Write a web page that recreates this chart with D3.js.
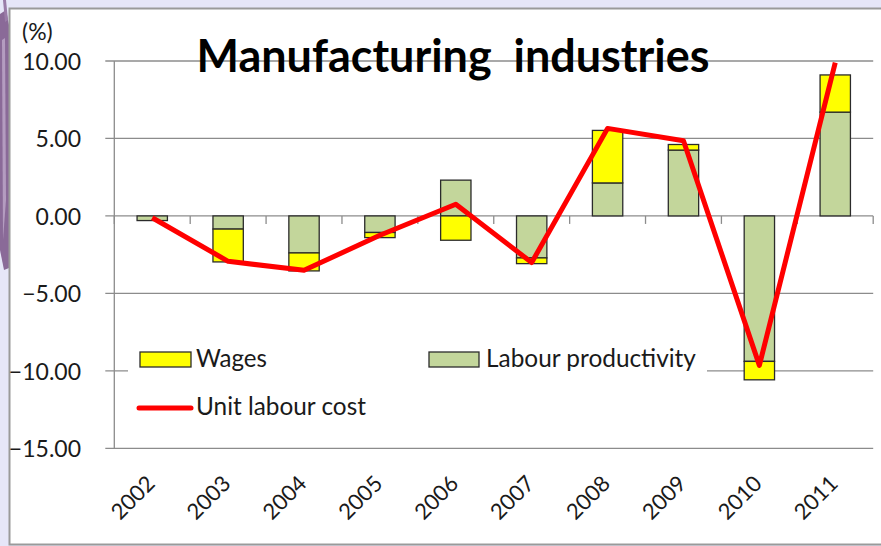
<!DOCTYPE html>
<html>
<head>
<meta charset="utf-8">
<script src="https://cdn.jsdelivr.net/npm/d3@7"></script>
<style>
  html, body { margin: 0; padding: 0; background: #e6e6f8; }
  svg { display: block; font-family: Lato, "Open Sans", sans-serif; }
</style>
</head>
<body>
<svg id="chart" width="881" height="546"></svg>
<script>
// Contributions to unit labour cost growth, manufacturing (%)
const years = ["2002","2003","2004","2005","2006","2007","2008","2009","2010","2011"];
const labourProductivity = [-0.3, -0.85, -2.39, -1.07, 2.31, -2.71, 2.13, 4.25, -9.39, 6.70];
const wages = [0.0, -2.12, -1.16, -0.33, -1.57, -0.37, 3.39, 0.36, -1.19, 2.40];
const unitLabourCost = [-0.12, -2.93, -3.51, -1.25, 0.75, -3.01, 5.65, 4.85, -9.65, 9.89];
const yTicks = [10, 5, 0, -5, -10, -15];

const svg = d3.select("#chart");

// decorative ribbon on the left edge
const deco = svg.append("g");
deco.append("path").attr("d", "M0,14 L6,10 L10,30 L9,268 L4,270 L0,250 Z").attr("fill", "#8a6a98");
deco.append("path").attr("d", "M2,40 L5,38 L6,200 L3,240 Z").attr("fill", "#b49cc0");
deco.append("path").attr("d", "M3,0 L6,0 L8,20 L5,22 Z").attr("fill", "#9a7ca8");

// chart area
svg.append("rect")
  .attr("x", 9.5).attr("y", 8.5).attr("width", 880).attr("height", 536)
  .attr("fill", "#ffffff").attr("stroke", "#9a9a9a").attr("stroke-width", 2);

const plot = { left: 114.3, right: 873.2, top: 61, bottom: 448.3 };

const x = d3.scaleBand().domain(years).range([plot.left, plot.right]).padding(0);
const y = d3.scaleLinear().domain([-15, 10]).range([plot.bottom, plot.top]);

const gridColor = "#8c8c8c";

// horizontal gridlines with outward ticks
svg.append("g").selectAll("line").data(yTicks).join("line")
  .attr("x1", plot.left - 9).attr("x2", plot.right)
  .attr("y1", d => y(d)).attr("y2", d => y(d))
  .attr("stroke", gridColor).attr("stroke-width", 1.3);

// vertical axis
svg.append("line")
  .attr("x1", plot.left).attr("x2", plot.left)
  .attr("y1", y(10)).attr("y2", y(-15))
  .attr("stroke", gridColor).attr("stroke-width", 1.3);

// category tick marks on the zero line
const bounds = years.map(d => x(d)).concat([plot.right]);
svg.append("g").selectAll("line").data(bounds).join("line")
  .attr("x1", d => d).attr("x2", d => d)
  .attr("y1", y(0)).attr("y2", y(0) + 8)
  .attr("stroke", gridColor).attr("stroke-width", 1.3);

// y tick labels
svg.append("g").selectAll("text").data(yTicks).join("text")
  .attr("x", 81).attr("y", d => y(d))
  .attr("text-anchor", "end").attr("dominant-baseline", "central")
  .attr("font-size", 23).attr("fill", "#1a1a1a")
  .text(d => d3.format(".2f")(d));

svg.append("text").attr("x", 22).attr("y", 31)
  .attr("dominant-baseline", "central")
  .attr("font-size", 23).attr("fill", "#1a1a1a").text("(%)");

// x labels, rotated
svg.append("g").selectAll("text").data(years).join("text")
  .attr("transform", d => `translate(${x(d) + x.bandwidth() / 2 + 4},485) rotate(-45)`)
  .attr("text-anchor", "end")
  .attr("font-size", 22).attr("fill", "#1a1a1a")
  .text(d => d);

// legend backdrop (hides gridline behind the legend)
svg.append("rect").attr("x", 128).attr("y", 338).attr("width", 579).attr("height", 88).attr("fill", "#ffffff");

// stacked bars
const rows = years.map((yr, i) => ({ year: yr, prod: labourProductivity[i], wages: wages[i] }));
const stack = d3.stack().keys(["prod", "wages"]).offset(d3.stackOffsetDiverging);
const series = stack(rows);
const fills = { prod: "#c3d69b", wages: "#ffff00" };
const barW = x.bandwidth() * 0.4;

svg.append("g").selectAll("g").data(series).join("g")
  .attr("fill", s => fills[s.key])
  .selectAll("rect").data(s => s.filter(p => p[1] !== p[0])).join("rect")
  .attr("x", p => x(p.data.year) + (x.bandwidth() - barW) / 2)
  .attr("width", barW)
  .attr("y", p => y(Math.max(p[0], p[1])))
  .attr("height", p => Math.abs(y(p[0]) - y(p[1])))
  .attr("stroke", "#2b2b2b").attr("stroke-width", 1.3);

// unit labour cost line
const line = d3.line()
  .x((d, i) => x(years[i]) + x.bandwidth() / 2)
  .y(d => y(d));
svg.append("path").datum(unitLabourCost)
  .attr("d", line).attr("fill", "none")
  .attr("stroke", "#ff0000").attr("stroke-width", 5)
  .attr("stroke-linejoin", "round");

// fit text to a target width
function fitWidth(sel, target) {
  const base = +sel.attr("font-size");
  const w = sel.node().getComputedTextLength();
  sel.attr("font-size", base * target / w);
}

// legend
const lg = svg.append("g");
lg.append("rect").attr("x", 140).attr("y", 352).attr("width", 51).attr("height", 15)
  .attr("fill", "#ffff00").attr("stroke", "#2b2b2b").attr("stroke-width", 1.3);
fitWidth(lg.append("text").attr("x", 196).attr("y", 367).attr("font-size", 22)
  .attr("fill", "#1a1a1a").text("Wages"), 71);
lg.append("rect").attr("x", 429).attr("y", 352).attr("width", 50).attr("height", 15)
  .attr("fill", "#c3d69b").attr("stroke", "#2b2b2b").attr("stroke-width", 1.3);
fitWidth(lg.append("text").attr("x", 486).attr("y", 367).attr("font-size", 22)
  .attr("fill", "#1a1a1a").text("Labour productivity"), 210);
lg.append("line").attr("x1", 139).attr("x2", 191).attr("y1", 408).attr("y2", 408)
  .attr("stroke", "#ff0000").attr("stroke-width", 5).attr("stroke-linecap", "round");
fitWidth(lg.append("text").attr("x", 196).attr("y", 415).attr("font-size", 22)
  .attr("fill", "#1a1a1a").text("Unit labour cost"), 170);

// title
const title = svg.append("text").attr("x", 453).attr("y", 72)
  .attr("text-anchor", "middle").attr("font-weight", "bold")
  .attr("font-size", 36).attr("fill", "#000000")
  .style("white-space", "pre")
  .text("Manufacturing  industries");
fitWidth(title, 513);
</script>
</body>
</html>
